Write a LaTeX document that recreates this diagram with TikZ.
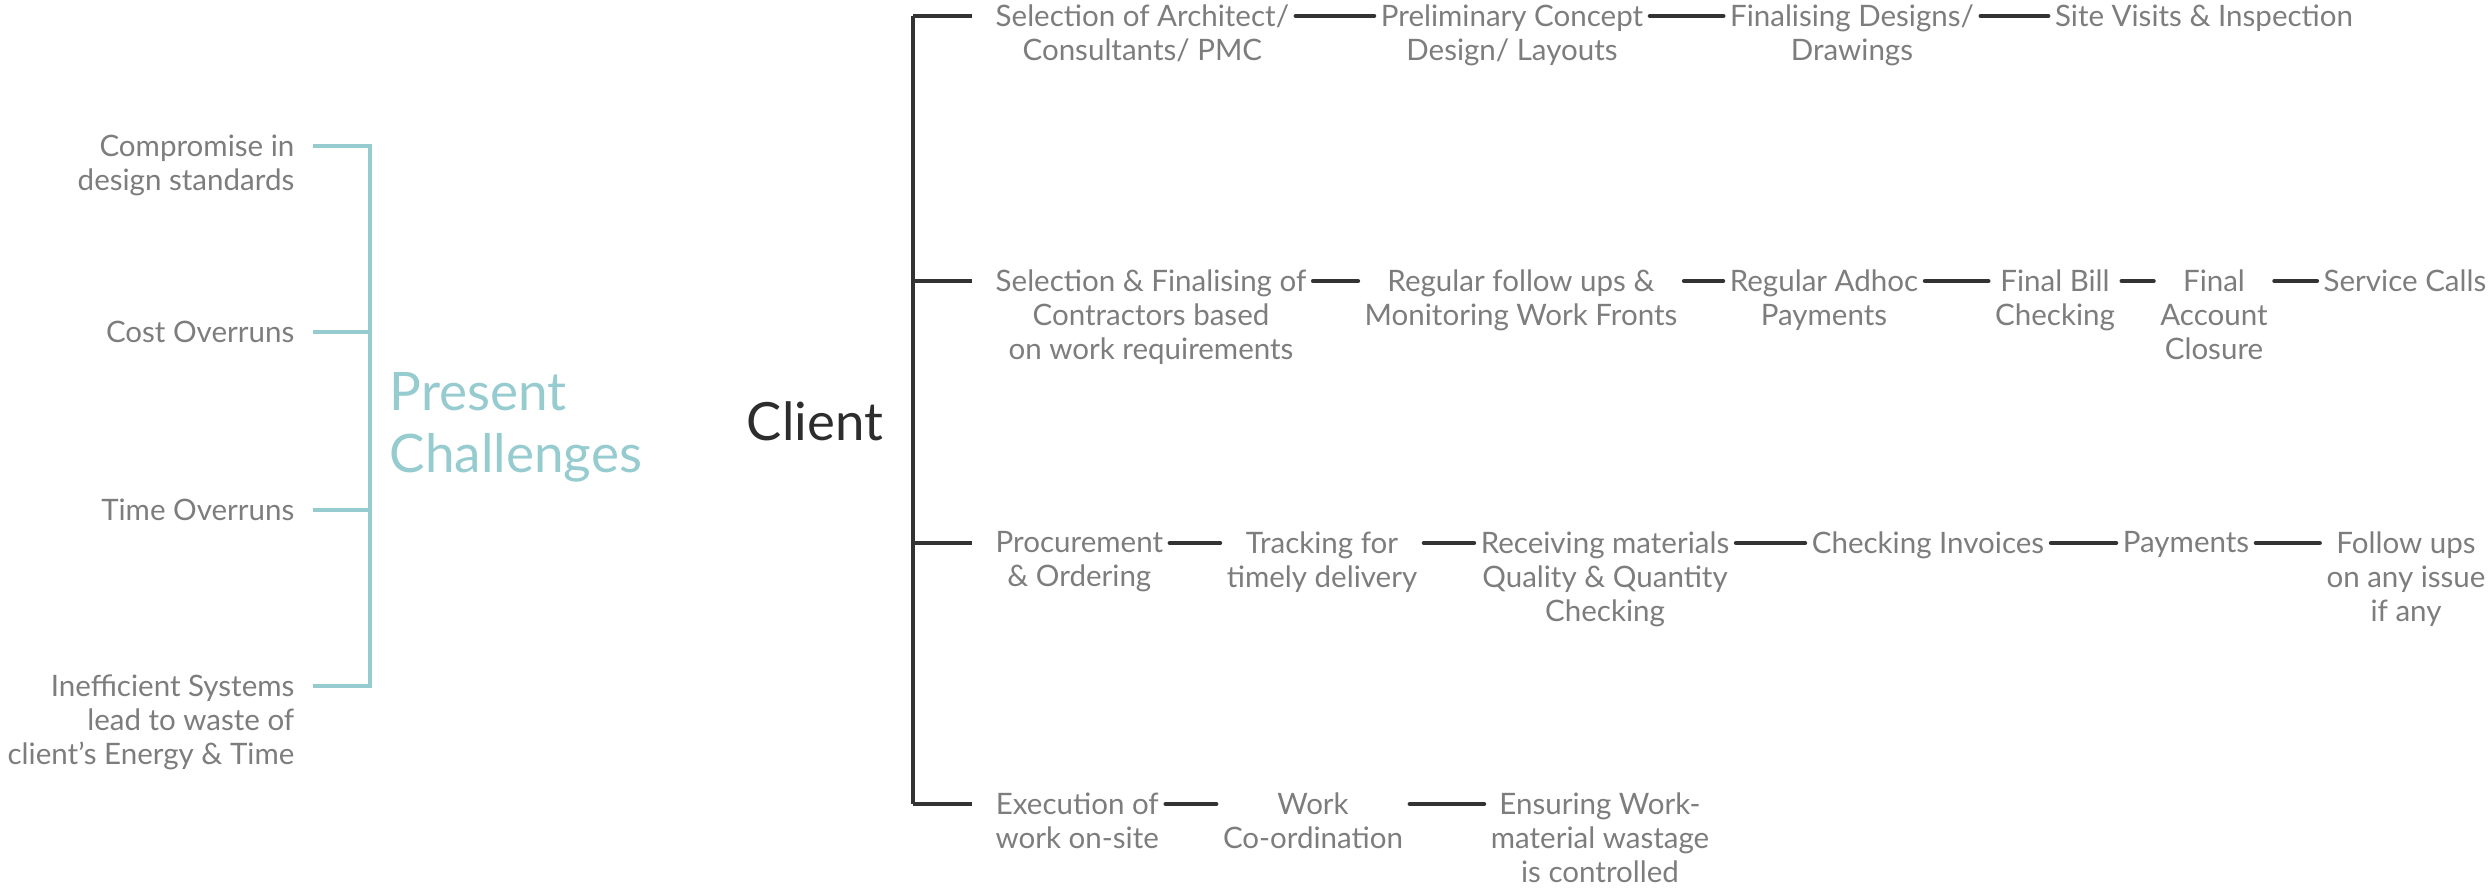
\documentclass[tikz,border=0pt]{standalone}
\usepackage{fontspec}
\setmainfont{Lato}
\definecolor{txtgray}{RGB}{125,125,125}
\definecolor{linedark}{RGB}{51,51,51}
\definecolor{tealc}{RGB}{150,203,207}
\definecolor{clientc}{RGB}{45,45,45}
\begin{document}
\begin{tikzpicture}[x=0.1mm,y=-0.1mm,line join=miter,
		stage/.style={font=\fontsize{8.4}{9.64}\selectfont,text=txtgray,align=center,inner sep=0pt,anchor=north},
		issue/.style={stage,align=right,anchor=north east},
		link/.style={draw=linedark,line width=1.2pt,line cap=round,shorten <=0.6mm,shorten >=0.6mm},
		spine/.style={draw=linedark,line width=1.2pt},
		tealspine/.style={draw=tealc,line width=1.2pt}]
	\useasboundingbox (0,0) rectangle (2491,891);
	% challenges bracket
	\node[issue] (cmp) at (295,134) {Compromise in\\design standards};
	\node[issue] (cost) at (295,320) {Cost Overruns};
	\node[issue] (time) at (295,498) {Time Overruns};
	\node[issue] (ineff) at (295,674) {Inefficient Systems\\lead to waste of\\client’s Energy \& Time};
	\coordinate (t1) at (370,146);
	\coordinate (t2) at (370,332);
	\coordinate (t3) at (370,510);
	\coordinate (t4) at (370,686);
	\draw[tealspine,shorten <=1.8mm,shorten >=1.8mm] (cmp.east |- t1) -- (t1) -- (t4) -- (ineff.east |- t4);
	\draw[tealspine,shorten <=1.8mm] (cost.east |- t2) -- (t2);
	\draw[tealspine,shorten <=1.8mm] (time.east |- t3) -- (t3);
	\node[font=\fontsize{15.1}{17.6}\selectfont,text=tealc,align=left,inner sep=0pt,anchor=north west] (pc) at (389,372) {Present\\Challenges};
	% client tree
	\node[font=\fontsize{15}{18}\selectfont,text=clientc,inner sep=0pt] (client) at (815,421) {Client};
	\coordinate (b1) at (913,16);
	\coordinate (b2) at (913,281);
	\coordinate (b3) at (913,543);
	\coordinate (b4) at (913,804);
	% row 1
	\node[stage,anchor=north west] (s11) at (995,4) {Selection of Architect/\\Consultants/ PMC};
	\node[stage] (s12) at (1512,4) {Preliminary Concept\\Design/ Layouts};
	\node[stage] (s13) at (1852,4) {Finalising Designs/\\Drawings};
	\node[stage] (s14) at (2204,4) {Site Visits \& Inspection};
	% row 2
	\node[stage,anchor=north west] (s21) at (995,269) {Selection \& Finalising of\\Contractors based\\on work requirements};
	\node[stage] (s22) at (1521,269) {Regular follow ups \&\\Monitoring Work Fronts};
	\node[stage] (s23) at (1824,269) {Regular Adhoc\\Payments};
	\node[stage] (s24) at (2055,269) {Final Bill\\Checking};
	\node[stage] (s25) at (2214,269) {Final\\Account\\Closure};
	\node[stage] (s26) at (2405,269) {Service Calls};
	% row 3
	\node[stage,anchor=north west] (s31) at (995,531) {Procurement\\\& Ordering};
	\node[stage] (s32) at (1322,531) {Tracking for\\timely delivery};
	\node[stage] (s33) at (1605,531) {Receiving materials\\Quality \& Quantity\\Checking};
	\node[stage] (s34) at (1928,531) {Checking Invoices};
	\node[stage] (s35) at (2186,531) {Payments};
	\node[stage] (s36) at (2406,531) {Follow ups\\on any issue\\if any};
	% row 4
	\node[stage,anchor=north west] (s41) at (995,792) {Execution of\\work on-site};
	\node[stage] (s42) at (1313,792) {Work\\Co-ordination};
	\node[stage] (s43) at (1600,792) {Ensuring Work-\\material wastage\\is controlled};
	% spine and ticks
	\draw[spine] (b1) -- (b4);
	\foreach \r in {1,...,4}
		\draw[spine,shorten >=2.3mm] (b\r) -- (s\r1.west |- b\r);
	\foreach \a/\b in {s11/s12,s12/s13,s13/s14}
		\draw[link] (\a.east |- b1) -- (\b.west |- b1);
	\foreach \a/\b in {s21/s22,s22/s23,s23/s24,s24/s25,s25/s26}
		\draw[link] (\a.east |- b2) -- (\b.west |- b2);
	\foreach \a/\b in {s31/s32,s32/s33,s33/s34,s34/s35,s35/s36}
		\draw[link] (\a.east |- b3) -- (\b.west |- b3);
	\foreach \a/\b in {s41/s42,s42/s43}
		\draw[link] (\a.east |- b4) -- (\b.west |- b4);
\end{tikzpicture}
\end{document}
